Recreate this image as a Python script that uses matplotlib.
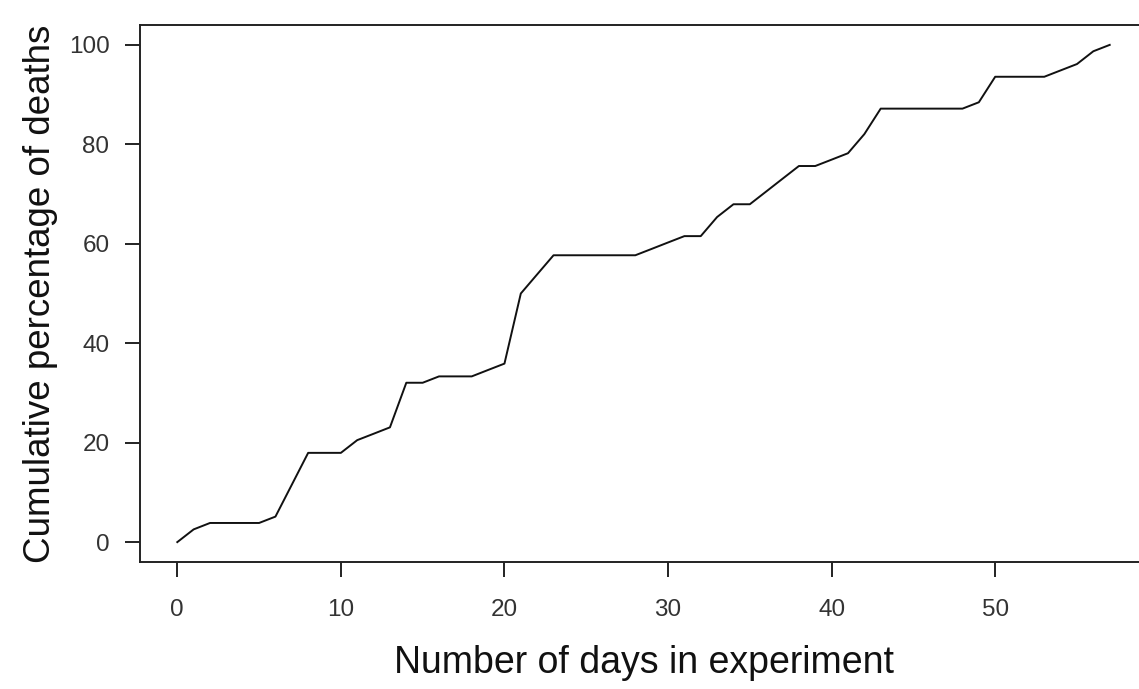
import numpy as np
import matplotlib
matplotlib.use("Agg")
import matplotlib.pyplot as plt

# cumulative % of deaths per day
dias = list(range(0, 58))
pct_muertes = [0, 2.56, 3.85, 3.85, 3.85, 3.85, 5.13, 11.54, 17.95, 17.95,
               17.95, 20.51, 21.79, 23.08, 32.05, 32.05, 33.33, 33.33, 33.33, 34.62,
               35.90, 50.00, 53.85, 57.69, 57.69, 57.69, 57.69, 57.69, 57.69, 58.97,
               60.26, 61.54, 61.54, 65.38, 67.95, 67.95, 70.51, 73.08, 75.64, 75.64,
               76.92, 78.21, 82.05, 87.18, 87.18, 87.18, 87.18, 87.18, 87.18, 88.46,
               93.59, 93.59, 93.59, 93.59, 94.87, 96.15, 98.72, 100.0]
xticks = [0, 10, 20, 30, 40, 50]
yticks = [0, 20, 40, 60, 80, 100]

plt.rcParams['font.family'] = ['Liberation Sans', 'DejaVu Sans']

fig = plt.figure(figsize=(11.39, 6.89), dpi=100)
ax = fig.add_axes([140/1139, 1 - 562/689, (1147 - 140)/1139, (562 - 25)/689])

ax.plot(dias, pct_muertes, color='#111111', lw=1.4)

# R-style limits (4% extension)
ax.set_xlim(-0.04*57, 57*1.04)
ax.set_ylim(-4, 104)

for s in ax.spines.values():
    s.set_linewidth(1.4)
    s.set_color('#222222')

ax.set_xticks(xticks)
ax.set_yticks(yticks)
ax.tick_params(axis='both', length=11, width=1.4, color='#222222',
               labelsize=17.5, labelcolor='#333333')
ax.tick_params(axis='x', pad=16)
ax.tick_params(axis='y', pad=11)

ax.set_xlabel("Number of days in experiment", fontsize=27, labelpad=17, color='#111111')
ax.set_ylabel("Cumulative percentage of deaths", fontsize=26.5, labelpad=8, color='#111111')

fig.savefig("out.png", dpi=100)
